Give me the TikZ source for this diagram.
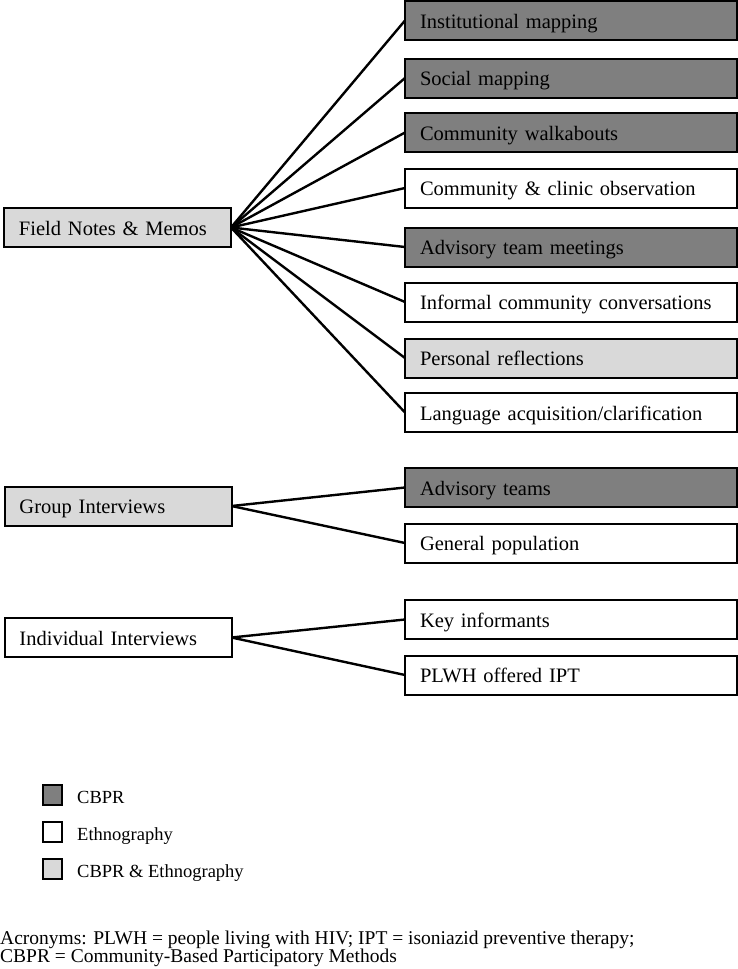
\documentclass[tikz,border=0pt]{standalone}
\usepackage{fontspec}
\setmainfont{Liberation Serif}
\usetikzlibrary{positioning}
\tikzset{
  methodbox/.style = {draw=black, line width=2pt, rectangle, minimum height=39pt, outer sep=0pt,
  inner xsep=15pt, inner ysep=0pt, align=left, text height=20pt, text depth=5pt,
  font=\fontsize{20.5}{22}\selectfont},
  srcbox/.style = {methodbox, text width=197pt},
  subbox/.style = {methodbox, text width=302pt},
  keybox/.style = {draw=black, line width=2pt, minimum width=19pt, minimum height=20pt,
  inner sep=0pt, outer sep=0pt},
  keylabel/.style = {inner sep=0pt, text height=20pt, text depth=3pt, font=\fontsize{18.5}{20}\selectfont}
}
\definecolor{cbpr_gray}{RGB}{127, 127, 127}
\definecolor{both_gray}{RGB}{217, 217, 217}

\begin{document}
\begin{tikzpicture}[x=1pt,y=-1pt,
        	cbpr/.style={fill=cbpr_gray},
        	ethno/.style={fill=white},
        	both/.style={fill=both_gray},
        	link/.style={line width=2.4pt, black},
        	node distance=17pt]
  \useasboundingbox (0,0) rectangle (738,969);
  % sources
  \node [srcbox, both] (fieldnotes) at (117.5,227.5) {Field Notes \& Memos};
  \node [srcbox, both] (groupint) at (118,506) {Group Interviews};
  \node [srcbox, ethno] (indivint) at (118,637.5) {Individual Interviews};
  % field notes branches
  \node [subbox, cbpr] (instmap) at (571,20.5) {Institutional mapping};
  \node [subbox, cbpr, below=18.5pt of instmap] (socmap) {Social mapping};
  \node [subbox, cbpr, below=15.5pt of socmap] (walk) {Community walkabouts};
  \node [subbox, ethno, below=16.5pt of walk] (observe) {Community \& clinic observation};
  \node [subbox, cbpr, below=20pt of observe] (advmeet) {Advisory team meetings};
  \node [subbox, ethno, below=16pt of advmeet] (informal) {Informal community conversations};
  \node [subbox, both, below=17pt of informal] (reflect) {Personal reflections};
  \node [subbox, ethno, below=15.5pt of reflect] (language) {Language acquisition/clarification};
  % group interview branches
  \node [subbox, cbpr, below=36pt of language] (advteam) {Advisory teams};
  \node [subbox, ethno, below=16.5pt of advteam] (genpop) {General population};
  % individual interview branches
  \node [subbox, ethno, below=37.5pt of genpop] (keyinf) {Key informants};
  \node [subbox, ethno, below=16.5pt of keyinf] (plwh) {PLWH offered IPT};
  % connectors
  \foreach \leaf in {instmap,socmap,walk,observe,advmeet,informal,reflect,language}
    \draw [link] (fieldnotes.east) -- (\leaf.west);
  \foreach \leaf in {advteam,genpop}
    \draw [link] (groupint.east) -- (\leaf.west);
  \foreach \leaf in {keyinf,plwh}
    \draw [link] (indivint.east) -- (\leaf.west);
  % legend
  \node [keybox, cbpr] (key_cbpr) at (52.5,794.5) {};
  \node [keybox, ethno, below=17pt of key_cbpr] (key_ethno) {};
  \node [keybox, both, below=17pt of key_ethno] (key_both) {};
  \node [keylabel, right=15pt of key_cbpr] (lab_cbpr) {CBPR};
  \node [keylabel, right=15pt of key_ethno] (lab_ethno) {Ethnography};
  \node [keylabel, right=15pt of key_both] (lab_both) {CBPR \& Ethnography};
  \node [anchor=north west, align=left, inner sep=0pt, font=\fontsize{19.5}{18.5}\selectfont] (acronyms) at (0,930.5)
    {Acronyms: PLWH = people living with HIV; IPT = isoniazid preventive therapy;\\
     CBPR = Community-Based Participatory Methods};
\end{tikzpicture}
\end{document}
